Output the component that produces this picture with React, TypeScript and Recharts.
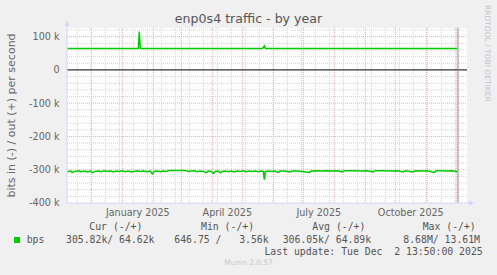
import React from 'react';
import { ComposedChart, Line, XAxis, YAxis, CartesianGrid, ReferenceLine } from 'recharts';

// ---- data (days counted from 1 Jan 2025) ----
const monthLabels = ['January 2025', 'April 2025', 'July 2025', 'October 2025'];
const labelDays = [15.5, 105, 196.5, 288.5];
const monthStartDays = [-31, 0, 31, 59, 90, 120, 151, 181, 212, 243, 273, 304, 334];
const minorDays = [-45, -31, -17, -3, 11, 25, 39, 53, 67, 81, 95, 109, 123, 137, 151, 165, 179, 193, 207, 221, 235, 249, 263, 277, 291, 305, 319, 333];
const yTicks = [-400000, -300000, -200000, -100000, 0, 100000];
const minorY = [-380000, -360000, -340000, -320000, -280000, -260000, -240000, -220000, -180000, -160000, -140000, -120000, -80000, -60000, -40000, -20000, 20000, 40000, 60000, 80000, 120000];
const lastUpdateDay = 335.7;

// out (+) in kbit/s
const outSeries: [number, number][] = [
  [-55, 64.6], [16, 64.6], [17, 115], [18, 64.6], [140, 64.6], [141, 67], [142, 72], [143, 65], [144, 64.6], [335, 64.6],
];
// in (-) in kbit/s
const inSeries: [number, number][] = [
  [-55, -306], [-52, -304], [-50, -308], [-47, -305], [-44, -303], [-41, -306], [-38, -304], [-35, -307], [-32, -304], [-30, -309],
  [-27, -305], [-24, -304], [-21, -306], [-18, -303], [-15, -305], [-12, -304], [-9, -307], [-6, -304], [-3, -305], [0, -303],
  [3, -306], [6, -304], [9, -307], [12, -305], [15, -303], [18, -305], [21, -304], [25, -306], [28, -304], [30, -313],
  [32, -305], [35, -304], [38, -306], [41, -304], [44, -305], [47, -302], [55, -302], [63, -302], [66, -305], [69, -304],
  [72, -303], [75, -306], [78, -304], [81, -305], [84, -309], [86, -304], [89, -305], [91, -311], [93, -305], [96, -304],
  [98, -309], [100, -305], [103, -304], [106, -306], [109, -304], [112, -307], [115, -304], [118, -305], [121, -303], [124, -306],
  [127, -304], [130, -305], [133, -304], [136, -306], [139, -304], [141, -305], [142, -330], [143, -306], [146, -304], [149, -305],
  [152, -304], [156, -308], [158, -304], [162, -304], [168, -307], [170, -304], [175, -304], [180, -305], [187, -308], [189, -304],
  [195, -303], [200, -304], [205, -303], [210, -304], [215, -303], [220, -307], [222, -303], [230, -303], [240, -304], [245, -303],
  [251, -307], [253, -303], [260, -303], [270, -304], [275, -303], [281, -307], [283, -303], [291, -307], [293, -303], [300, -304],
  [305, -303], [312, -308], [314, -303], [320, -303], [325, -304], [330, -303], [335, -305.8],
];

const legendHeaders = ['Cur (-/+)', 'Min (-/+)', 'Avg (-/+)', 'Max (-/+)'];
const legendValues = ['305.82k/ 64.62k', '646.75 /   3.56k', '306.05k/ 64.89k', '8.68M/ 13.61M'];
const seriesName = 'bps';
const lastUpdate = 'Last update: Tue Dec  2 13:50:00 2025';

const outData = outSeries.map(([day, v]) => ({ day, v: v * 1000 }));
const inData = inSeries.map(([day, v]) => ({ day, v: v * 1000 }));

const W = 497;
const H = 275;
const AXIS = '#CFD6F8';
const FONT = '#666666';
const GREEN = '#00cc00';
const MINOR = '#d2d2d2';
const MAJOR = '#eeaaaa';

const XDecor = (props: any) => {
  const vb = props.viewBox || {};
  const x = vb.x + vb.width;
  const y = vb.y;
  return (
    <g>
      <line x1={x} y1={y} x2={x + 3} y2={y} stroke={AXIS} strokeWidth={1} />
      <polygon points={`${x + 2},${y - 2.5} ${x + 7},${y} ${x + 2},${y + 2.5}`} fill={AXIS} />
    </g>
  );
};

const YDecor = (props: any) => {
  const vb = props.viewBox || {};
  const ax = vb.x + vb.width;
  const top = vb.y;
  const cy = vb.y + vb.height / 2;
  const lx = vb.x + 4;
  return (
    <g>
      <line x1={ax} y1={top} x2={ax} y2={top - 3} stroke={AXIS} strokeWidth={1} />
      <polygon points={`${ax - 2.5},${top - 2} ${ax},${top - 7} ${ax + 2.5},${top - 2}`} fill={AXIS} />
      <text
        x={lx}
        y={cy}
        transform={`rotate(-90, ${lx}, ${cy})`}
        textAnchor="middle"
        dominantBaseline="central"
        fill={FONT}
        fontSize={11}
        fontFamily="DejaVu Sans"
      >
        bits in (-) / out (+) per second
      </text>
    </g>
  );
};

const mono: React.CSSProperties = {
  position: 'absolute',
  fontFamily: '"DejaVu Sans Mono", monospace',
  fontSize: 9.8,
  lineHeight: '12px',
  color: '#555',
  whiteSpace: 'pre',
};

export default function App() {
  const headerX = [89.3, 201, 312.3, 422.7];
  const valueX = [66, 174.3, 282.7, 403.3];
  return (
    <div style={{ position: 'absolute', left: 0, top: 0, width: W, height: H, background: '#f0f0f0', overflow: 'hidden' }}>
      <ComposedChart width={W} height={H} margin={{ top: 28, right: 30, bottom: 0, left: 7 }}>
        <CartesianGrid fill="#ffffff" horizontal={false} vertical={false} stroke="none" />
        <XAxis
          dataKey="day"
          type="number"
          domain={[-55.3, 344.7]}
          allowDataOverflow
          ticks={labelDays}
          interval={0}
          tickFormatter={(v: number) => monthLabels[labelDays.indexOf(v)] ?? ''}
          height={72}
          tickSize={0}
          tickMargin={6}
          tickLine={false}
          axisLine={{ stroke: AXIS }}
          tick={{ fill: FONT, fontSize: 9.6, fontFamily: 'DejaVu Sans' }}
          label={<XDecor />}
        />
        <YAxis
          type="number"
          domain={[-400000, 126000]}
          allowDataOverflow
          ticks={yTicks}
          interval={0}
          width={60}
          tickSize={0}
          tickMargin={7.5}
          tickLine={false}
          axisLine={{ stroke: AXIS }}
          tickFormatter={(v: number) => (v === 0 ? '0' : `${v / 1000} k`)}
          tick={{ fill: FONT, fontSize: 9.6, fontFamily: 'DejaVu Sans' }}
          label={<YDecor />}
        />
        {minorY.map((y) => (
          <ReferenceLine key={`my${y}`} y={y} stroke={MINOR} strokeDasharray="1 1" />
        ))}
        {minorDays.map((d) => (
          <ReferenceLine key={`mx${d}`} x={d} stroke={MINOR} strokeDasharray="1 1" />
        ))}
        {yTicks.filter((y) => y !== 0 && y !== -400000).map((y) => (
          <ReferenceLine key={`My${y}`} y={y} stroke={MAJOR} strokeDasharray="1 1" />
        ))}
        {monthStartDays.map((d) => (
          <ReferenceLine key={`Mx${d}`} x={d} stroke={MAJOR} strokeDasharray="1 1" />
        ))}
        <ReferenceLine y={0} stroke="#000000" strokeWidth={1} />
        <ReferenceLine x={lastUpdateDay} stroke="#8a8a8a" strokeWidth={1} />
        <Line data={outData} dataKey="v" type="linear" stroke={GREEN} strokeWidth={1.5} dot={false} activeDot={false} isAnimationActive={false} />
        <Line data={inData} dataKey="v" type="linear" stroke={GREEN} strokeWidth={1.5} dot={false} activeDot={false} isAnimationActive={false} />
      </ComposedChart>

      <div style={{ position: 'absolute', left: 0, width: W, top: 11, textAlign: 'center', fontFamily: '"DejaVu Sans"', fontSize: 12.6, lineHeight: '16px', color: '#555' }}>
        enp0s4 traffic - by year
      </div>
      <div
        style={{
          position: 'absolute',
          left: 480.5,
          top: 5,
          transformOrigin: '0 0',
          transform: 'rotate(90deg) translate(0, -12px)',
          fontFamily: '"DejaVu Sans"',
          fontSize: 7.5,
          lineHeight: '12px',
          color: '#c4c4c4',
          whiteSpace: 'nowrap',
        }}
      >
        RRDTOOL / TOBI OETIKER
      </div>

      {legendHeaders.map((h, i) => (
        <div key={h} style={{ ...mono, left: headerX[i], top: 221.3 }}>{h}</div>
      ))}
      <div style={{ position: 'absolute', left: 14, top: 237, width: 6, height: 6, background: GREEN }} />
      <div style={{ ...mono, left: 26.7, top: 234 }}>{seriesName}</div>
      {legendValues.map((v, i) => (
        <div key={v} style={{ ...mono, left: valueX[i], top: 234 }}>{v}</div>
      ))}
      <div style={{ ...mono, right: W - 482.7, top: 245.7 }}>{lastUpdate}</div>
      <div style={{ position: 'absolute', left: 0, width: W, top: 257, textAlign: 'center', fontFamily: '"DejaVu Sans"', fontSize: 7.4, lineHeight: '12px', color: '#c8c8c8' }}>
        Munin 2.0.57
      </div>
    </div>
  );
}
